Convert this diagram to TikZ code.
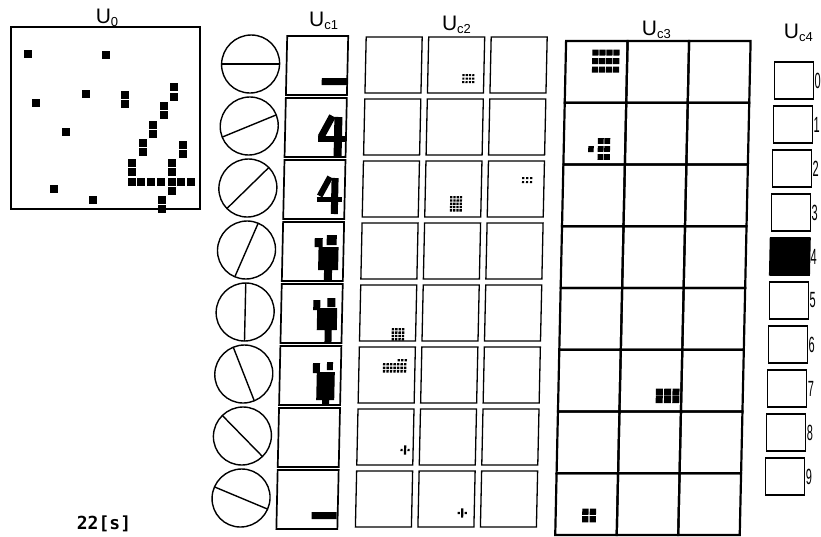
\documentclass[tikz,border=0pt]{standalone}
\usepackage{fontspec}
\setmainfont{Liberation Sans}
\newfontfamily\stampfont{DejaVu Sans Mono}
\usepackage{tikz}
\usetikzlibrary{positioning}

% layer name: U with a small index
\newcommand{\ulab}[1]{U\raisebox{-2.5pt}{\fontsize{13}{13}\selectfont #1}}
% block of cell responses: x, y, columns, rows, x pitch, y pitch, size
\newcommand{\dotblock}[7]{%
  \foreach \i in {1,...,#3}
    \foreach \j in {1,...,#4}
      \fill ({#1+(\i-1)*#5},{#2+(\j-1)*#6}) rectangle +(#7,#7);}

\begin{document}
\begin{tikzpicture}[
  x=1pt, y=-1pt,
  frame/.style={line width=1.7pt},
  cell/.style={line width=1.3pt},
  filt/.style={line width=1.4pt},
  unitbox/.style={draw, line width=1.2pt, minimum width=39pt,
    minimum height=37pt, inner sep=0pt},
  lbl/.style={font=\fontsize{21}{21}\selectfont, inner sep=0pt},
  digit/.style={font=\fontsize{22}{22}\selectfont, inner sep=0pt}
]
  \useasboundingbox (0,0) rectangle (821,536);

  % input layer U0
  \draw[frame] (11,27) rectangle (200,209);
  \node[lbl] (l0) at (107,18) {\ulab{0}};
  \foreach \x/\y in {28/54,106/55,36/103,86/94,66/132,54/189,93/200,
      125/95,125/104,174/87,174/97,164/106,164/115,153/125,153/134,
      143/143,143/152,132/163,132/172,183/145,183/154,172/163,172/172,
      172/191,162/200,162/209,132/182,141/182,151/182,161/182,172/182,
      181/182,191/182}
    \fill (\x-4.3,\y-4.3) rectangle +(8.6,8.6);

  \node[font=\fontsize{18}{18}\stampfont\bfseries, inner sep=0pt]
    (clock) at (104,524) {22[s]};

  \begin{scope}[xslant=0.022]
    % orientation filters
    \foreach \k in {0,...,7} {
      \draw[filt] (252,{64+62*\k}) circle[radius=29pt];
      \draw[filt] (252,{64+62*\k}) ++(\k*22.5:29pt) -- ++(\k*22.5+180:58pt);
    }

    % layer UC1
    \node[lbl] (l1) at (324,21) {\ulab{c1}};
    \foreach \k in {0,...,7}
      \draw[frame] (288,{36+62*\k}) rectangle +(61,59);
    \fill (323.5,78) rectangle (349,85);
    \draw[line width=7pt] (335,116) -- (324,137);
    \draw[line width=6pt] (321,139) -- (348,139);
    \draw[line width=8pt] (341,117) -- (341,156);
    \draw[line width=6pt] (334,177) -- (324,196);
    \draw[line width=5pt] (321,199) -- (346,199);
    \draw[line width=7pt] (339,178) -- (339,214);
    \fill (320,238) rectangle (328,247) (332,235) rectangle (342,245)
      (324,247) rectangle (344,270) (330,270) rectangle (338,281);
    \fill (320,300) rectangle (327,310) (334,298) rectangle (342,307)
      (324,308) rectangle (344,330) (332,330) rectangle (339,343);
    \fill (321,363) rectangle (328,373) (335,362) rectangle (341,370)
      (325,372) rectangle (343,400) (331,400) rectangle (338,405);
    \fill (323,512) rectangle (348,519);

    % layer UC2
    \node[lbl] (l2) at (457,25) {\ulab{c2}};
    \foreach \c in {367,429.5,492}
      \foreach \k in {0,...,7}
        \draw[cell] (\c,{37+62*\k}) rectangle +(56,56);
    \dotblock{464}{74}{4}{3}{3.3}{3.5}{2.2}
    \dotblock{454.5}{196}{4}{5}{3.2}{3.3}{2.3}
    \dotblock{526}{177}{3}{2}{4}{4}{2.2}
    \dotblock{399}{328}{4}{4}{3.4}{3.4}{2.4}
    \dotblock{391}{363}{7}{3}{3.5}{3.6}{2.4}
    \dotblock{405.5}{359}{3}{1}{3.5}{3.5}{2.4}
    \foreach \x/\y in {415/450,473.5/513} {
      \fill (\x-1.1,\y-4.6) rectangle +(2.2,9.2);
      \fill (\x-4.6,\y-1.1) rectangle +(2.2,2.2);
      \fill (\x+2.4,\y-1.1) rectangle +(2.2,2.2);
    }

    % layer UC3
    \node[lbl] (l3) at (657,30) {\ulab{c3}};
    \foreach \c in {567,628.5,690}
      \foreach \k in {0,...,7}
        \draw[frame, line width=2.2pt] (\c,{41+61.75*\k}) rectangle +(61.5,61.75);
    \dotblock{593.5}{49.5}{4}{3}{7}{8.5}{6.2}
    \fill (591.5,146) rectangle +(5.5,6);
    \dotblock{601}{138}{2}{3}{6.5}{8}{5.8}
    \dotblock{664.5}{388.5}{3}{2}{8.3}{7.5}{7}
    \dotblock{593.5}{508.5}{2}{2}{7.5}{7.5}{6.3}

    % layer UC4
    \node[lbl] (l4) at (799,33) {\ulab{c4}};
    \foreach \k in {0,...,9} {
      \node[unitbox] (b\k) at (795.5,{80.5+44*\k}) {};
      \node[digit, right=0.5pt of b\k] (n\k) {\scalebox{0.5}[1]{\k}};
    }
    \fill (b4.north west) rectangle (b4.south east);
  \end{scope}
\end{tikzpicture}
\end{document}
